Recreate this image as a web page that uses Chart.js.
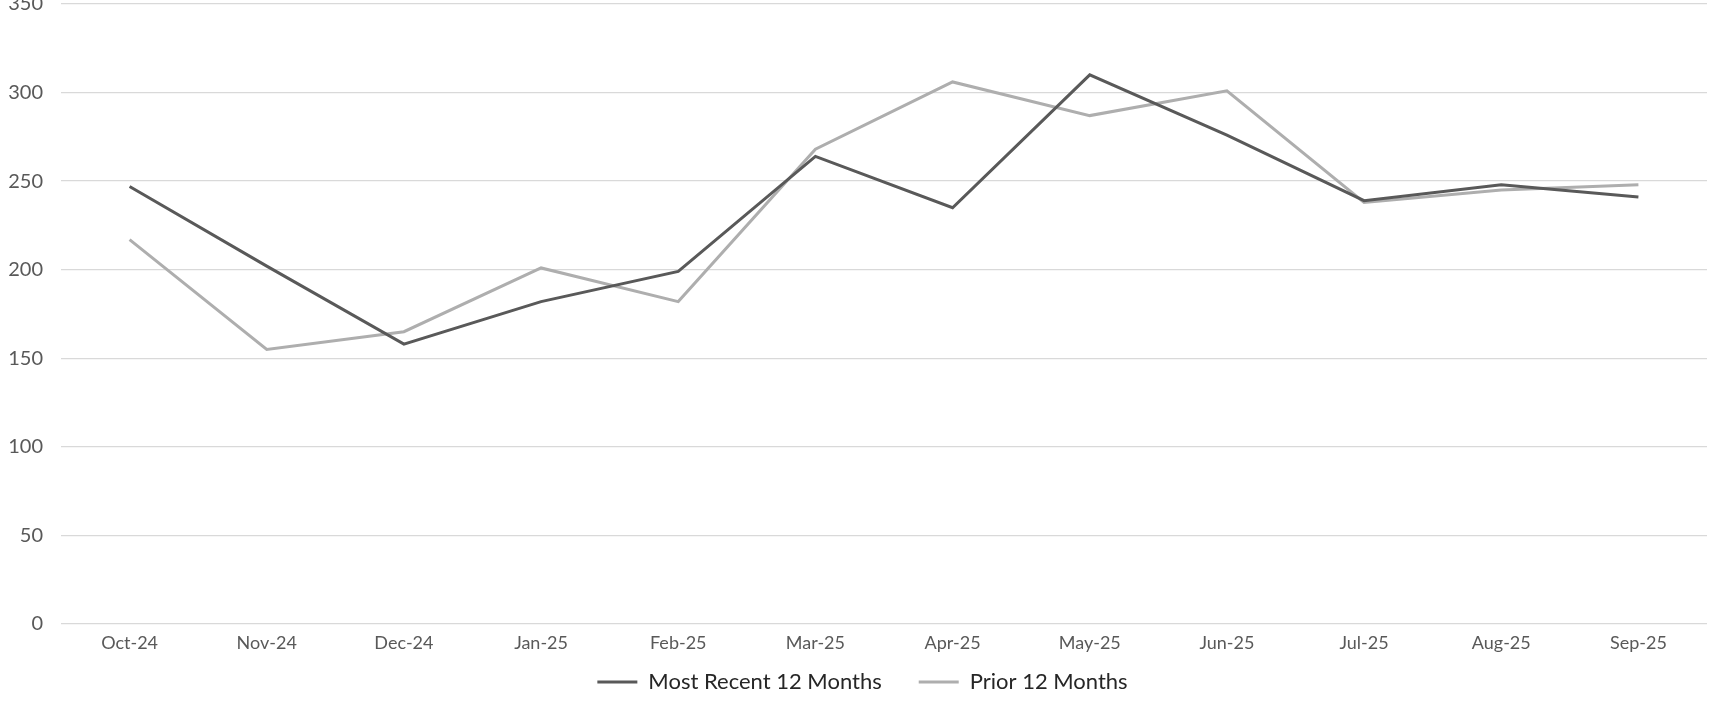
<!DOCTYPE html>
<html>
<head>
<meta charset="utf-8">
<script src="https://cdn.jsdelivr.net/npm/chart.js@4.4.1/dist/chart.umd.min.js"></script>
<style>
  html, body { margin: 0; padding: 0; background: #fff; overflow: hidden; }
  #wrap { position: absolute; left: 0; top: -26px; width: 1718px; height: 729px; }
</style>
</head>
<body>
<div id="wrap"><canvas id="lineChart" width="1718" height="729"></canvas></div>
<script>
// Data
const months = ["Oct-24", "Nov-24", "Dec-24", "Jan-25", "Feb-25", "Mar-25",
  "Apr-25", "May-25", "Jun-25", "Jul-25", "Aug-25", "Sep-25"];
const recent12 = [247, 202, 158, 182, 199, 264, 235, 310, 276, 239, 248, 241];
const prior12 = [217, 155, 165, 201, 182, 268, 306, 287, 301, 238, 245, 248];
const yTicks = [0, 50, 100, 150, 200, 250, 300, 350];

const fontFamily = "Lato, 'Open Sans', sans-serif";

// the x axis is squeezed so the legend sits close; let its labels draw below it,
// and nudge the legend a little right like in the original
const layoutTweaks = {
  id: "layoutTweaks",
  afterLayout(chart) {
    chart.scales.x.bottom = chart.scales.x.top + 40;
    chart.legend.left += 9;
    chart.legend.right += 9;
  },
};

const ctx = document.getElementById("lineChart").getContext("2d");
const lineChart = new Chart(ctx, {
  type: "line",
  data: {
    labels: months,
    datasets: [
      {
        label: "Most Recent 12 Months",
        data: recent12,
        borderColor: "#595959",
        backgroundColor: "#595959",
        borderWidth: 3,
        pointRadius: 0,
        tension: 0,
      },
      {
        label: "Prior 12 Months",
        data: prior12,
        borderColor: "#aeaeae",
        backgroundColor: "#aeaeae",
        borderWidth: 3,
        pointRadius: 0,
        tension: 0,
      },
    ],
  },
  options: {
    responsive: false,
    animation: false,
    devicePixelRatio: 1,
    layout: { padding: { left: 0, right: 11, top: 0, bottom: 0 } },
    scales: {
      x: {
        offset: true,
        grid: { display: false },
        border: { display: false },
        ticks: {
          color: "#595959",
          font: { family: fontFamily, size: 18 },
          padding: 0,
          maxRotation: 0,
        },
        afterFit: (scale) => {
          scale.height = 10;
        },
      },
      y: {
        min: 0,
        max: 350,
        afterBuildTicks: (scale) => {
          scale.ticks = yTicks.map((v) => ({ value: v }));
        },
        grid: { color: "#d9d9d9", lineWidth: 1.3, drawTicks: false },
        border: { display: false },
        ticks: {
          color: "#595959",
          font: { family: fontFamily, size: 20 },
          padding: 18,
        },
        afterFit: (scale) => {
          scale.width = 61;
        },
      },
    },
    plugins: {
      legend: {
        position: "bottom",
        labels: {
          usePointStyle: true,
          pointStyle: "line",
          pointStyleWidth: 40,
          color: "#262626",
          font: { family: fontFamily, size: 22 },
          padding: 37,
        },
      },
      tooltip: { enabled: false },
    },
  },
  plugins: [layoutTweaks],
});
</script>
</body>
</html>
